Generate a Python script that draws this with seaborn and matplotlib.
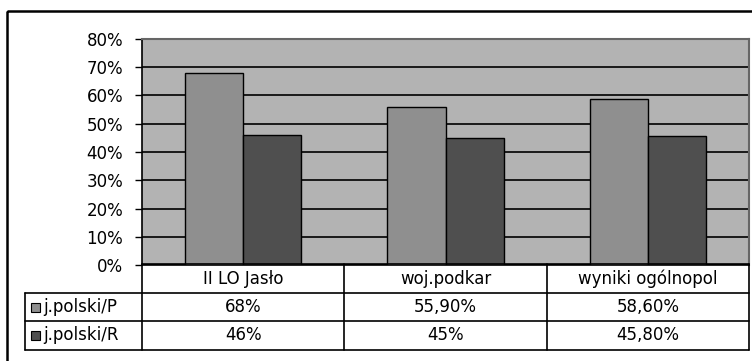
import matplotlib
matplotlib.use('Agg')
import matplotlib.pyplot as plt
from matplotlib.patches import Rectangle
from matplotlib.ticker import PercentFormatter, MultipleLocator
import pandas as pd
import seaborn as sns

categories = ['II LO Jasło', 'woj.podkar', 'wyniki ogólnopol']
series = ['j.polski/P', 'j.polski/R']
values_p = [0.68, 0.559, 0.586]
values_r = [0.46, 0.45, 0.458]
labels_p = ['68%', '55,90%', '58,60%']
labels_r = ['46%', '45%', '45,80%']
colors = ['#8f8f8f', '#4f4f4f']

df = pd.DataFrame({
    'kat': categories * 2,
    'seria': [series[0]] * 3 + [series[1]] * 3,
    'wynik': values_p + values_r,
})

sns.set_style('white')
plt.rcParams['font.family'] = ['DejaVu Sans']
plt.rcParams['text.color'] = 'black'
plt.rcParams['ytick.labelcolor'] = 'black'

W, H = 752, 361
fig = plt.figure(figsize=(W / 100, H / 100), dpi=100)

# pixel helpers
def fx(px):
    return px / W

def fy(py):
    return 1 - py / H

left, right, top, bottom = 142, 749, 39, 265
ax = fig.add_axes([fx(left), fy(bottom), fx(right) - fx(left), (bottom - top) / H])
ax.set_facecolor('#b3b3b3')

sns.barplot(data=df, x='kat', y='wynik', hue='seria', palette=colors,
            width=0.575, edgecolor='black', linewidth=1, ax=ax, legend=False,
            saturation=1, zorder=3)

ax.set_ylim(0, 0.8)
ax.set_xlim(-0.5, 2.5)
ax.yaxis.set_major_locator(MultipleLocator(0.1))
ax.yaxis.set_major_formatter(PercentFormatter(1.0, decimals=0))
ax.grid(axis='y', color='black', linewidth=1.2, zorder=0)
ax.set_axisbelow(True)
ax.set_xlabel('')
ax.set_ylabel('')
ax.set_xticks([])
ax.tick_params(axis='y', direction='out', length=5, width=1, color='black',
               pad=8.5, labelsize=12, left=True, labelcolor='black')
for s in ['top', 'right']:
    ax.spines[s].set_color('#666666')
    ax.spines[s].set_linewidth(1.5)
ax.spines['left'].set_color('black')
ax.spines['bottom'].set_color('black')
ax.spines['left'].set_linewidth(1.2)
ax.spines['bottom'].set_linewidth(1.2)

# data table below the plot
tab = fig.add_axes([0, 0, 1, 1], facecolor='none')
tab.set_xlim(0, W)
tab.set_ylim(H, 0)
tab.axis('off')

col_edges = [left + (right - left) * i / 3 for i in range(4)]
row_y = [264, 293, 321, 350]
tab_left = 25
lw = 1.2
# horizontal lines
tab.plot([col_edges[0], col_edges[-1]], [row_y[0]] * 2, color='black', lw=lw)
for yv in row_y[1:]:
    tab.plot([tab_left, col_edges[-1]], [yv] * 2, color='black', lw=lw)
# vertical lines
tab.plot([tab_left] * 2, [row_y[1], row_y[3]], color='black', lw=lw)
for xv in col_edges:
    tab.plot([xv] * 2, [row_y[0], row_y[3]], color='black', lw=lw)

fs = 12
for i, c in enumerate(categories):
    xc = (col_edges[i] + col_edges[i + 1]) / 2
    tab.text(xc, (row_y[0] + row_y[1]) / 2, c, ha='center', va='center', fontsize=fs)
    tab.text(xc, (row_y[1] + row_y[2]) / 2, labels_p[i], ha='center', va='center', fontsize=fs)
    tab.text(xc, (row_y[2] + row_y[3]) / 2, labels_r[i], ha='center', va='center', fontsize=fs)

for j, (name, col) in enumerate(zip(series, colors)):
    yc = (row_y[j + 1] + row_y[j + 2]) / 2
    tab.add_patch(Rectangle((31, yc - 4.5), 9, 9, facecolor=col, edgecolor='black', lw=0.8))
    tab.text(43, yc, name, ha='left', va='center', fontsize=fs)

# outer chart frame
tab.add_patch(Rectangle((7, 11), 760, 360, facecolor='none', edgecolor='black', lw=1.8,
                        clip_on=True))

fig.savefig('out.png', dpi=100)
